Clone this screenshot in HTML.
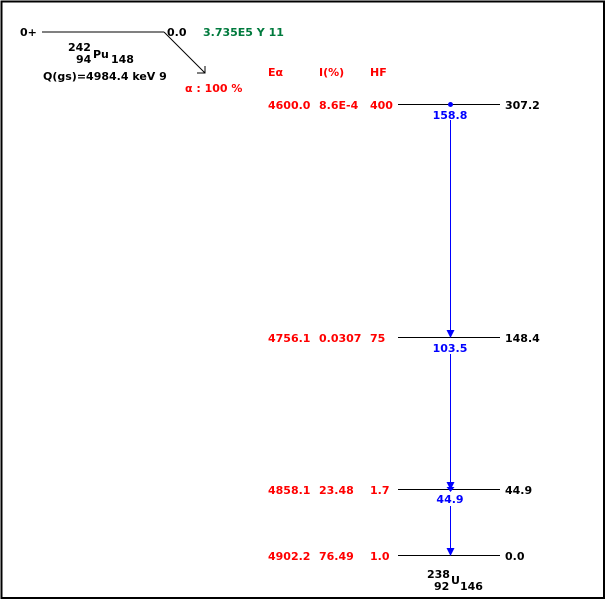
<!DOCTYPE html>
<html><head><meta charset="utf-8"><style>
html,body{margin:0;padding:0;background:#fff;}
svg{display:block;}
text{font-family:"DejaVu Sans","Liberation Sans",sans-serif;font-weight:bold;font-size:11px;}
</style></head><body>
<svg width="607" height="600" xmlns="http://www.w3.org/2000/svg">
<rect x="1.5" y="1.5" width="602.5" height="596.5" fill="none" stroke="#000" stroke-width="2"/>
<!-- parent -->
<text x="20" y="36">0+</text>
<line x1="42" y1="32" x2="164" y2="32" stroke="#000"/>
<text x="167" y="36">0.0</text>
<text x="203" y="36" fill="#007a3d">3.735E5 Y 11</text>
<line x1="164" y1="32" x2="205" y2="73" stroke="#000"/>
<path d="M197,73 L205,73 L205,66" fill="none" stroke="#000"/>
<text x="68" y="51">242</text>
<text x="76" y="63">94</text>
<text x="93" y="58">Pu</text>
<text x="111" y="63">148</text>
<text x="43" y="80">Q(gs)=4984.4 keV 9</text>
<text x="185" y="92" fill="#ff0000">α : 100 %</text>
<text x="268" y="76" fill="#ff0000">Eα</text>
<text x="319" y="76" fill="#ff0000">I(%)</text>
<text x="370" y="76" fill="#ff0000">HF</text>
<!-- levels -->
<g fill="#ff0000">
<text x="268" y="109">4600.0</text><text x="319" y="109">8.6E-4</text><text x="370" y="109">400</text>
<text x="268" y="342">4756.1</text><text x="319" y="342">0.0307</text><text x="370" y="342">75</text>
<text x="268" y="494">4858.1</text><text x="319" y="494">23.48</text><text x="370" y="494">1.7</text>
<text x="268" y="560">4902.2</text><text x="319" y="560">76.49</text><text x="370" y="560">1.0</text>
</g>
<g stroke="#000">
<line x1="398" y1="104.5" x2="500" y2="104.5"/>
<line x1="398" y1="337.5" x2="500" y2="337.5"/>
<line x1="398" y1="489.5" x2="500" y2="489.5"/>
<line x1="398" y1="555.5" x2="500" y2="555.5"/>
</g>
<text x="505" y="109">307.2</text>
<text x="505" y="342">148.4</text>
<text x="505" y="494">44.9</text>
<text x="505" y="560">0.0</text>
<!-- gammas -->
<circle cx="450.5" cy="104.5" r="2.5" fill="#0000ff"/>
<g stroke="#0000ff">
<line x1="450.5" y1="120" x2="450.5" y2="332"/>
<line x1="450.5" y1="354" x2="450.5" y2="484"/>
<line x1="450.5" y1="506" x2="450.5" y2="550"/>
</g>
<g fill="#0000ff">
<path d="M446.5,330 L454.5,330 L450.5,338 Z"/>
<path d="M446.5,482 L454.5,482 L450.5,490 Z"/>
<path d="M446.5,487 L454.5,487 L450.5,492 Z"/>
<path d="M446.5,548 L454.5,548 L450.5,556 Z"/>
</g>
<g fill="#0000ff" text-anchor="middle">
<text x="450" y="119">158.8</text>
<text x="450" y="352">103.5</text>
<text x="450" y="503">44.9</text>
</g>
<!-- daughter -->
<text x="427" y="578">238</text>
<text x="434" y="590">92</text>
<text x="451" y="584">U</text>
<text x="460" y="590">146</text>
</svg>
</body></html>
